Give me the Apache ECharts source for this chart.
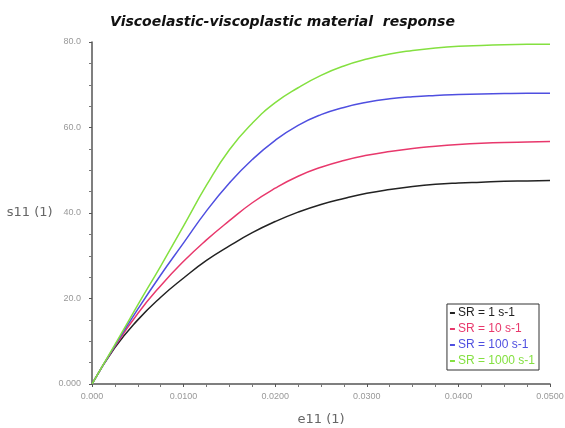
<!DOCTYPE html>
<html><head><meta charset="utf-8">
<script src="https://cdn.jsdelivr.net/npm/echarts@6/dist/echarts.min.js"></script>
<style>html,body{margin:0;padding:0;background:#fff}#c{width:565px;height:428px}</style>
</head><body><div id="c"></div>
<script>
const strain = [0,0.0025,0.005,0.0075,0.01,0.0125,0.015,0.0175,0.02,0.0225,0.025,0.0275,0.03,0.0325,0.035,0.0375,0.04,0.0425,0.045,0.0475,0.05];
const sr1    = [0,8.5,15.0,20.3,24.8,28.9,32.3,35.4,38.0,40.2,42.0,43.4,44.6,45.5,46.2,46.7,47.0,47.2,47.4,47.5,47.6];
const sr10   = [0,8.8,16.5,23.0,28.7,33.7,38.2,42.4,45.8,48.6,50.7,52.3,53.5,54.4,55.1,55.6,56.0,56.3,56.5,56.6,56.7];
const sr100  = [0,9.0,17.5,25.5,33.0,40.5,47.0,52.5,57.0,60.5,63.0,64.7,65.9,66.7,67.2,67.5,67.7,67.85,67.95,68.0,68.0];
const sr1000 = [0,9.2,18.5,27.6,37.0,46.5,54.8,61.0,65.8,69.3,72.2,74.4,76.0,77.2,78.0,78.6,79.0,79.2,79.35,79.45,79.5];
const seriesNames = ['SR = 1 s-1','SR = 10 s-1','SR = 100 s-1','SR = 1000 s-1'];
const colors = ['#222222','#e8386c','#4f4fe0','#84e040'];
const xTicks = ['0.000','0.0100','0.0200','0.0300','0.0400','0.0500'];
const yTicks = ['0.000','20.0','40.0','60.0','80.0'];

const allData = [sr1, sr10, sr100, sr1000];
const chart = echarts.init(document.getElementById('c'));
chart.setOption({
  animation:false,
  title:{text:'Viscoelastic-viscoplastic material  response',left:'center',top:10,
    textStyle:{fontFamily:'DejaVu Sans',fontSize:14,fontWeight:'bold',fontStyle:'italic',color:'#111'}},
  grid:{left:92,right:15,top:42,bottom:44,containLabel:false,outerBoundsMode:'none'},
  legend:{
    orient:'vertical',right:26,bottom:58,
    backgroundColor:'#fff',borderColor:'#333',borderWidth:1,borderRadius:0,
    padding:[3,4,3,3],itemGap:4,itemWidth:5,itemHeight:2,icon:'rect',
    data:seriesNames.map((n,i)=>({name:n,textStyle:{color:colors[i]}})),
    textStyle:{fontFamily:'Liberation Sans',fontSize:12,padding:[0,0,0,-2]}
  },
  xAxis:{type:'value',min:0,max:0.05,interval:0.01,
    name:'e11 (1)',nameLocation:'middle',nameGap:29,
    nameTextStyle:{fontFamily:'DejaVu Sans',fontSize:13,color:'#666'},
    axisLine:{lineStyle:{color:'#555',width:1.5}},
    axisTick:{show:true,inside:false,length:3,lineStyle:{color:'#555'}},
    minorTick:{show:true,splitNumber:4,length:3,lineStyle:{color:'#777'}},
    splitLine:{show:false},
    axisLabel:{fontSize:9,color:'#999',margin:8,formatter:(v)=>xTicks[Math.round(v/0.01)]}
  },
  yAxis:{type:'value',min:0,max:80,interval:20,
    name:'s11 (1)',nameLocation:'middle',nameGap:38,nameRotate:0,
    nameTextStyle:{fontFamily:'DejaVu Sans',fontSize:13,color:'#666'},
    axisLine:{show:true,lineStyle:{color:'#555',width:1.5}},
    axisTick:{show:true,length:3,lineStyle:{color:'#555'}},
    minorTick:{show:true,splitNumber:4,length:3,lineStyle:{color:'#777'}},
    splitLine:{show:false},
    axisLabel:{fontSize:9,color:'#999',margin:11,formatter:(v)=>yTicks[Math.round(v/20)]}
  },
  series: allData.map((d,i)=>({
    name:seriesNames[i],type:'line',smooth:true,showSymbol:false,
    data:strain.map((x,j)=>[x,d[j]]),
    lineStyle:{color:colors[i],width:1.5},itemStyle:{color:colors[i]}
  }))
});
</script></body></html>
